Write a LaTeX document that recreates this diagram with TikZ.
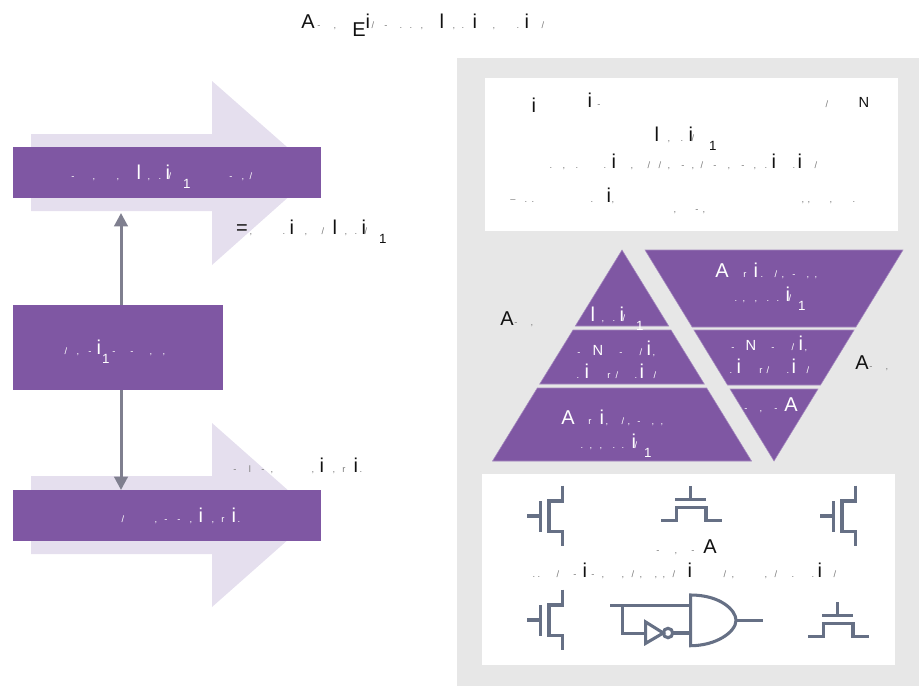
\documentclass[tikz,border=0pt]{standalone}
\usepackage{fontspec}
\setmainfont{Liberation Sans}
\usetikzlibrary{arrows.meta}
\definecolor{barpurple}{HTML}{7F57A3}
\definecolor{palepurple}{HTML}{E5DFEE}
\definecolor{panelgrey}{HTML}{E7E7E7}
\definecolor{symgrey}{HTML}{667085}
\definecolor{linkgrey}{HTML}{7F7F8F}
\definecolor{ink}{HTML}{111111}
\newdimen\pxu \pxu=0.75pt
\newcommand{\gl}[2]{\hbox to 0pt{\kern#1\pxu\hbox to 0pt{\hss #2\hss}\hss}}
\newcommand{\gm}[2]{\gl{#1}{\fontsize{7}{8}\selectfont\textcolor{.!55}{#2}}}
\newcommand{\gt}[1]{\gl{#1}{\raisebox{-7pt}{\fontsize{10}{10}\selectfont 1}}}
\tikzset{
  bar/.style={fill=barpurple,inner sep=0pt},
  lbl/.style={anchor=base west,inner sep=0pt,text=ink,font=\fontsize{15}{18}\selectfont},
  wlbl/.style={lbl,text=white},
  layer/.style={fill=barpurple,draw=barpurple!70!white,line width=0.4pt},
  sym/.style={draw=symgrey,line width=2.3pt,line join=miter},
  link/.style={draw=linkgrey,line width=2.25pt,-{Triangle[length=10pt,width=10pt]}}
}
\begin{document}
\begin{tikzpicture}[x=0.75pt,y=-0.75pt]
    \useasboundingbox (0,0) rectangle (923,686);
    % left column
    \fill[palepurple] (31,134) -- (212,134) -- (212,81) -- (316,172.5) -- (212,265) -- (212,211) -- (31,211) -- cycle;
    \fill[palepurple] (31,476) -- (212,476) -- (212,423) -- (316,515) -- (212,607) -- (212,554) -- (31,554) -- cycle;
    \node[bar,minimum width=231pt,minimum height=38.25pt] (topbar) at (167,172.5) {};
    \node[bar,minimum width=157.5pt,minimum height=63.75pt] (midbox) at (118,347.5) {};
    \node[bar,minimum width=231pt,minimum height=38.25pt] (botbar) at (167,515.5) {};
    \coordinate (topin) at (121,213);
    \coordinate (botin) at (121,490);
    \draw[link] (midbox.north -| topin) -- (topin);
    \draw[link] (midbox.south -| botin) -- (botin);
    % right panel
    \fill[panelgrey] (457,58) rectangle (919,686);
    \fill[white] (485,78) rectangle (898,231);
    \fill[white] (482,474) rectangle (895,665);
    % pyramid
    \fill[layer] (622,250) -- (668.7,326) -- (575.3,326) -- cycle;
    \fill[layer] (573,330) -- (671,330) -- (704.3,384) -- (539.7,384) -- cycle;
    \fill[layer] (537.3,388) -- (706.7,388) -- (751.5,461) -- (492.5,461) -- cycle;
    \fill[layer] (645,250) -- (903,250) -- (855.9,327) -- (692.1,327) -- cycle;
    \fill[layer] (693.9,330) -- (854.1,330) -- (820.5,385) -- (727.5,385) -- cycle;
    \fill[layer] (730,389) -- (818,389) -- (774,461) -- cycle;
    % transistors
    \foreach \dx/\dy in {0/0,293/0,0/104} {
        \begin{scope}[shift={(\dx,\dy)}]
            \draw[sym] (527,516) -- (540.7,516);
            \draw[sym] (540.7,501) -- (540.7,532);
            \draw[sym] (562.3,485.7) -- (562.3,501) -- (549,501) -- (549,531.7) -- (562.3,531.7) -- (562.3,546.3);
        \end{scope}
    }
    \foreach \dx/\dy in {0/0,147/116} {
        \begin{scope}[shift={(\dx,\dy)}]
            \draw[sym] (690.3,486) -- (690.3,499.3);
            \draw[sym] (675,499.3) -- (706,499.3);
            \draw[sym] (661,520.7) -- (676.7,520.7) -- (676.7,507.7) -- (706,507.7) -- (706,520.7) -- (721.7,520.7);
        \end{scope}
    }
    % gate
    \draw[sym] (690.7,595) .. controls (720,595) and (736,610) .. (736,620.3) .. controls (736,632) and (716,645.7) .. (690.7,645.7) -- cycle;
    \draw[sym] (736,620.3) -- (762.7,620.3);
    \draw[sym] (610,605.3) -- (690.7,605.3);
    \draw[sym] (622.3,605.3) -- (622.3,633.7) -- (645.7,633.7);
    \draw[sym] (645.7,622) -- (645.7,643.3) -- (663.3,633) -- cycle;
    \draw[sym] (668,633) circle (4.7);
    \draw[sym] (672.7,633) -- (690.7,633);
    % labels
    \node[lbl] (title) at (0,28) {\gl{307}{A}\gm{318}{-}\gm{334}{,}\gl{358}{\raisebox{-6pt}{E}}\gl{367}{i}\gm{372}{/}\gm{385}{-}\gm{400}{.}\gm{410}{.}\gm{421}{,}\gl{441}{l}\gm{453}{,}\gm{462}{.}\gl{474}{i}\gm{493}{,}\gm{517}{.}\gl{526}{i}\gm{542}{/}};
    \node[wlbl] (toptext) at (0,179) {\gm{72}{-}\gm{93}{,}\gm{117}{,}\gl{138}{l}\gm{148}{,}\gm{159}{.}\gl{167}{i}\gm{169}{/}\gt{186}\gm{230}{-}\gm{242}{,}\gm{250}{/}};
    \node[lbl] (eqtext) at (0,234) {\gl{241}{=}\gm{250}{,}\gm{283}{.}\gl{291}{i}\gm{305}{,}\gm{322}{/}\gl{334}{l}\gm{345}{,}\gm{355}{.}\gl{363}{i}\gm{365}{/}\gt{382}};
    \node[wlbl] (midtext) at (0,354) {\gm{65}{/}\gm{77}{,}\gm{89}{-}\gl{98}{i}\gt{105}\gm{113}{-}\gm{131}{-}\gm{150}{,}\gm{163}{,}};
    \node[lbl] (sidetext) at (0,472) {\gm{234}{-}\gm{249}{l}\gm{262}{-}\gm{271}{,}\gm{312}{,}\gl{321}{i}\gm{333}{,}\gm{343}{r}\gl{355}{i}\gm{360}{.}};
    \node[wlbl] (bottext) at (0,522) {\gm{122}{/}\gm{155}{,}\gm{165}{-}\gm{178}{-}\gm{190}{,}\gl{200}{i}\gm{212}{,}\gm{222}{r}\gl{233}{i}\gm{238}{.}};
    \node[lbl] (boxa) at (0,107) {\gl{533}{\raisebox{-3.75pt}{i}}\gl{589}{i}\gm{598}{-}\gm{826}{/}\gl{863}{\fontsize{11}{12}\selectfont N}};
    \node[lbl] (boxb) at (0,141) {\gl{656}{l}\gm{668}{,}\gm{681}{.}\gl{690}{i}\gm{692}{/}\gt{712}};
    \node[lbl] (boxc) at (0,168) {\gm{550}{.}\gm{563}{,}\gm{576}{.}\gm{604}{.}\gl{613}{i}\gm{631}{,}\gm{648}{/}\gm{659}{/}\gm{668}{,}\gm{682}{-}\gm{692}{,}\gm{701}{/}\gm{714}{-}\gm{728}{,}\gm{742}{-}\gm{754}{,}\gm{765}{.}\gl{773}{i}\gm{793}{.}\gl{799}{i}\gm{815}{/}};
    \node[lbl] (boxd) at (0,202) {\gm{512}{--}\gm{525}{.}\gm{532}{.}\gm{591}{.}\gl{608}{i}\gm{612}{,}\gm{802}{,}\gm{808}{,}\gm{830}{,}\gm{853}{.}};
    \node[lbl] (boxe) at (0,212) {\gm{674}{,}\gm{696}{-}\gm{703}{,}};
    \node[lbl] (areal) at (0,325) {\gl{506}{A}\gm{515}{-}\gm{531}{,}};
    \node[wlbl] (pyra) at (0,321) {\gl{592}{l}\gm{602}{,}\gm{613}{.}\gl{621}{i}\gm{623}{/}\gt{639}};
    \node[wlbl] (pyrb) at (0,355) {\gm{578}{-}\gl{597}{\fontsize{11}{12}\selectfont N}\gm{620}{-}\gm{640}{/}\gl{648}{i}\gm{653}{,}};
    \node[wlbl] (pyrc) at (0,378) {\gm{577}{.}\gl{586}{i}\gm{608}{r}\gm{616}{/}\gm{635}{.}\gl{641}{i}\gm{654}{/}};
    \node[wlbl] (pyrd) at (0,424) {\gl{567}{A}\gm{589}{r}\gl{601}{i}\gm{606}{,}\gm{622}{/}\gm{628}{,}\gm{638}{-}\gm{652}{,}\gm{661}{,}};
    \node[wlbl] (pyre) at (0,448) {\gm{581}{.}\gm{590}{,}\gm{600}{,}\gm{613}{.}\gm{622}{.}\gl{633}{i}\gm{635}{/}\gt{647}};
    \node[wlbl] (inva) at (0,277) {\gl{721}{A}\gm{744}{r}\gl{755}{i}\gm{761}{.}\gm{775}{/}\gm{782}{,}\gm{793}{-}\gm{807}{,}\gm{815}{,}};
    \node[wlbl] (invb) at (0,301) {\gm{735}{.}\gm{743}{,}\gm{755}{,}\gm{767}{.}\gm{777}{.}\gl{787}{i}\gm{789}{/}\gt{801}};
    \node[wlbl] (invc) at (0,350) {\gm{732}{-}\gl{750}{\fontsize{11}{12}\selectfont N}\gm{772}{-}\gm{792}{/}\gl{800}{i}\gm{805}{,}};
    \node[wlbl] (invd) at (0,373) {\gm{730}{.}\gl{738}{i}\gm{760}{r}\gm{767}{/}\gm{787}{.}\gl{793}{i}\gm{807}{/}};
    \node[wlbl] (inve) at (0,411) {\gm{745}{-}\gm{760}{,}\gm{775}{-}\gl{790}{A}};
    \node[lbl] (arear) at (0,369) {\gl{861}{A}\gm{870}{-}\gm{886}{,}};
    \node[lbl] (syma) at (0,553) {\gm{657}{-}\gm{675}{,}\gm{692}{-}\gl{709}{A}};
    \node[lbl] (symb) at (0,577) {\gm{533}{.}\gm{538}{.}\gm{557}{/}\gm{574}{-}\gl{584}{i}\gm{592}{-}\gm{602}{,}\gm{622}{,}\gm{632}{/}\gm{640}{,}\gm{655}{,}\gm{663}{,}\gm{673}{/}\gl{689}{i}\gm{724}{/}\gm{732}{,}\gm{765}{,}\gm{775}{/}\gm{792}{.}\gm{812}{.}\gl{819}{i}\gm{834}{/}};
\end{tikzpicture}
\end{document}
